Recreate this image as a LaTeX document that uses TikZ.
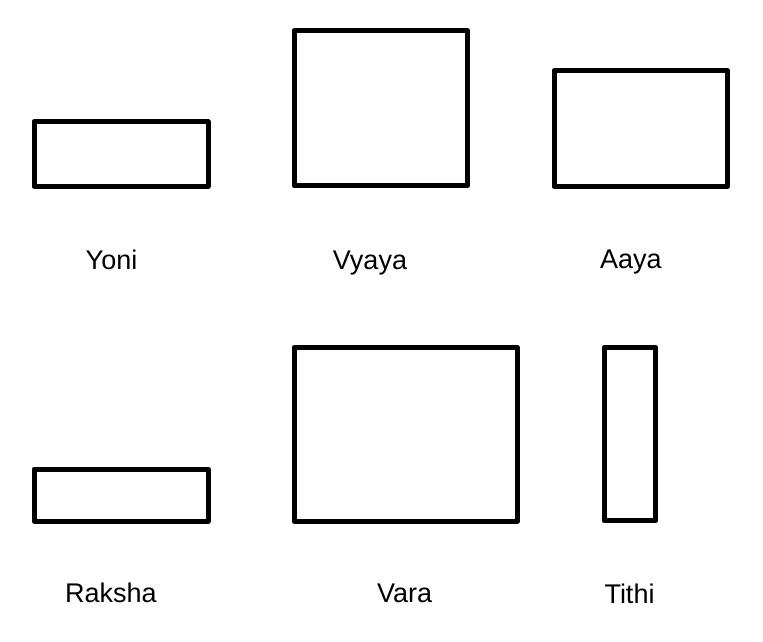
\documentclass[tikz,border=0pt]{standalone}
\usepackage{fontspec}
\setmainfont{Liberation Sans}
\begin{document}
\begin{tikzpicture}[x=1pt,y=-1pt,
  box/.style={draw=black,line width=5pt,line join=round,rectangle,inner sep=0pt,outer sep=0pt,fill=white},
  lbl/.style={anchor=base,inner sep=0pt,font=\fontsize{27}{32}\selectfont}]
\useasboundingbox[fill=white] (0,0) rectangle (763,641);
% boxes (center, width, height measured between line centres)
\node[box,minimum width=174pt,minimum height=64.5pt] (yoni) at (121,154) {};
\node[box,minimum width=173.5pt,minimum height=155pt] (vyaya) at (380.75,108.3) {};
\node[box,minimum width=173.5pt,minimum height=116pt] (aaya) at (640.75,128.5) {};
\node[box,minimum width=174pt,minimum height=52pt] (raksha) at (121,495) {};
\node[box,minimum width=223.5pt,minimum height=173.5pt] (vara) at (405.75,434.25) {};
\node[box,minimum width=51.8pt,minimum height=173.3pt] (tithi) at (629.9,434.15) {};
% labels
\node[lbl] (tyoni) at (111.5,269.3) {Yoni};
\node[lbl] (tvyaya) at (370,269.5) {Vyaya};
\node[lbl] (taaya) at (630.8,268.8) {Aaya};
\node[lbl] (traksha) at (111,602.8) {Raksha};
\node[lbl] (tvara) at (404.7,602.8) {Vara};
\node[lbl] (ttithi) at (629.5,603.3) {Tithi};
\end{tikzpicture}
\end{document}
